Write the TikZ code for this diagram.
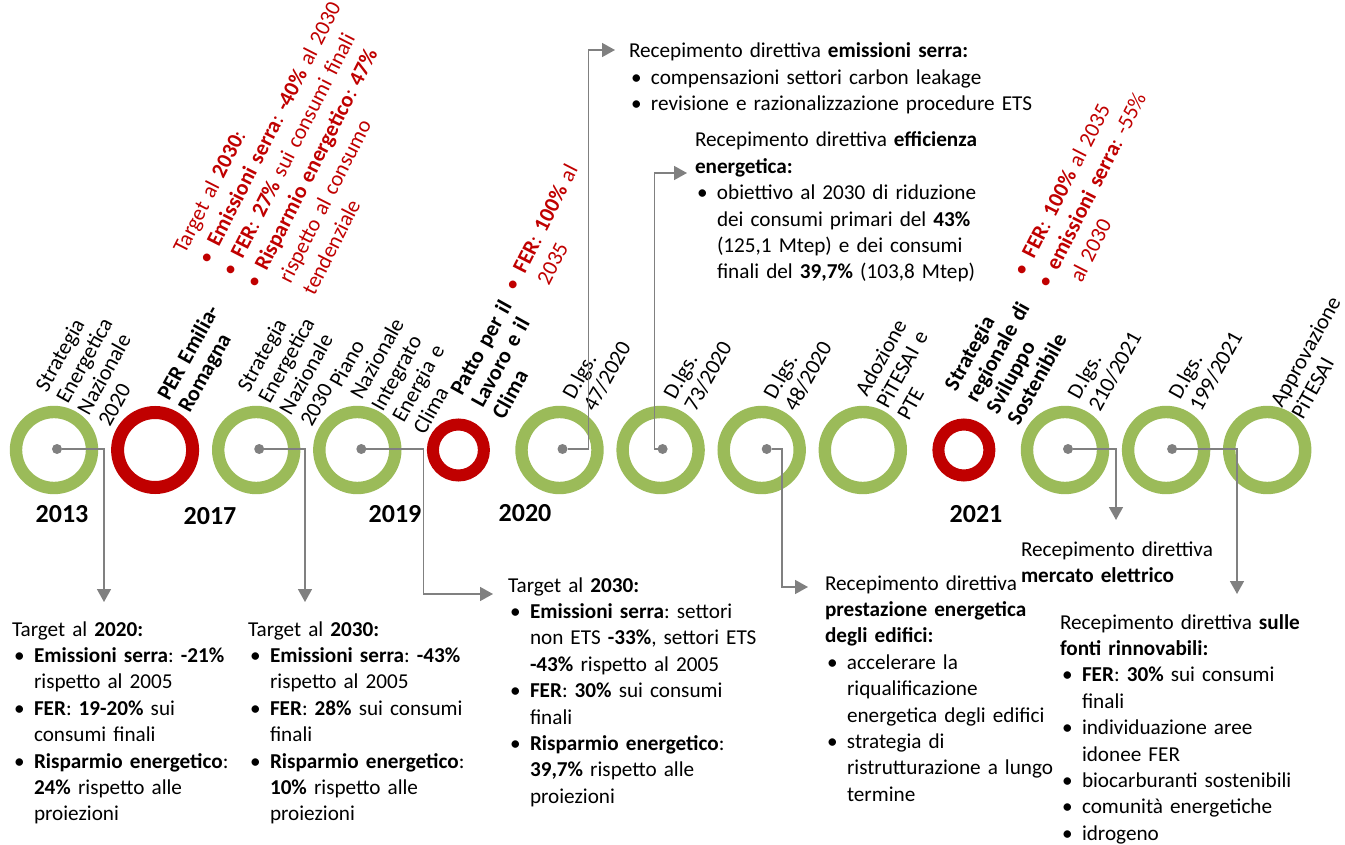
\documentclass[tikz,border=0pt]{standalone}
\usepackage{fontspec}
\setmainfont{Carlito}
\usetikzlibrary{arrows.meta}
\definecolor{ringgreen}{RGB}{155,187,89}
\definecolor{ringred}{RGB}{192,0,0}
\definecolor{linkgray}{RGB}{128,128,128}
\newcommand\bul{\makebox[11pt][l]{\hspace{1pt}\textbullet}}
\newcommand\ind{\hspace*{11pt}}

\begin{document}
\frenchspacing
\begin{tikzpicture}[x=0.5pt, y=-0.5pt,
    every node/.style={inner sep=0pt, outer sep=0pt},
    ring/.style={circle, draw=ringgreen, line width=6.2pt, minimum size=38pt},
    bigred/.style={circle, draw=ringred, line width=6.5pt, minimum size=37.5pt},
    smallred/.style={circle, draw=ringred, line width=6pt, minimum size=25.5pt},
    dot/.style={circle, fill=linkgray, minimum size=5pt},
    link/.style={draw=linkgray, line width=0.8pt, -{Triangle[width=7pt,length=6.5pt]}},
    evtext/.style={xshift=3.5pt, yshift=-2pt, rotate=61, anchor=base west, text width=120pt, align=left, font=\fontsize{11}{12}\selectfont},
    evbold/.style={evtext, font=\fontsize{11}{12}\selectfont\bfseries},
    rednote/.style={xshift=4pt, yshift=-2pt, rotate=63, anchor=base west, text width=220pt, align=left, text=ringred, font=\fontsize{10.9}{13.4}\selectfont},
    infobox/.style={anchor=base west, text width=230pt, align=left, font=\fontsize{10.6}{13.2}\selectfont},
    yeartext/.style={anchor=base, font=\fontsize{13}{15}\selectfont\bfseries}]
  \useasboundingbox (0,0) rectangle (1345,845);

  \foreach \i/\s in {1/ring,2/bigred,3/ring,4/ring,5/smallred,6/ring,7/ring,8/ring,9/ring,10/smallred,11/ring,12/ring,13/ring} {
    \node[\s] (C\i) at ({54+101.1*(\i-1)}, 450) {};
  }
  \foreach \i/\dx in {1/3,3/3,4/4,6/3,7/2,8/5,11/3,12/6} {
    \node[dot] (D\i) at ([xshift=\dx*0.5pt, yshift=0.5pt]C\i.center) {};
  }

  \node[yeartext] (Y1) at (62,522) {2013};
  \node[yeartext] (Y2) at (210,524) {2017};
  \node[yeartext] (Y3) at (395,522) {2019};
  \node[yeartext] (Y4) at (525,521) {2020};
  \node[yeartext] (Y5) at (976,522) {2021};

  \node[evtext] (L1) at (40,389) {Strategia\\Energetica\\Nazionale\\2020};
  \node[evbold] (L2) at (162,398) {PER Emilia-\\Romagna};
  \node[evtext] (L3) at (242,389) {Strategia\\Energetica\\Nazionale\\2030};
  \node[evtext] (L4) at (334,385) {Piano\\Nazionale\\Integrato\\Energia e\\Clima};
  \node[evbold] (L5) at (455,393) {Patto per il\\Lavoro e il\\Clima};
  \node[evtext] (L6) at (567,397) {D.lgs.\\47/2020};
  \node[evtext] (L7) at (668,397) {D.lgs.\\73/2020};
  \node[evtext] (L8) at (768,397) {D.lgs.\\48/2020};
  \node[evtext] (L9) at (860,394) {Adozione\\PiTESAI e\\PTE};
  \node[evbold] (L10) at (949,388) {Strategia\\regionale di\\Sviluppo\\Sostenibile};
  \node[evtext] (L11) at (1072,397) {D.lgs.\\210/2021};
  \node[evtext] (L12) at (1173,397) {D.lgs.\\199/2021};
  \node[evtext] (L13) at (1275,405) {Approvazione\\PiTESAI};

  \node[rednote] (R1) at (177,251) {Target al \textbf{2030}:\\
    \bul\textbf{Emissioni serra}: \textbf{-40\%} al 2030\\
    \bul\textbf{FER}: \textbf{27\%} sui consumi finali\\
    \bul\textbf{Risparmio energetico}: \textbf{47\%}\\
    \ind rispetto al consumo\\
    \ind tendenziale};
  \node[rednote] (R2) at (507,290) {\bul\textbf{FER}: \textbf{100\%} al\\
    \ind 2035};
  \node[rednote] (R3) at (1016,275) {\bul\textbf{FER}: \textbf{100\%} al 2035\\
    \bul\textbf{emissioni serra}: -55\%\\
    \ind al 2030};

  \node[infobox] (B1) at (12,636) {Target al \textbf{2020:}\\
    \bul\textbf{Emissioni serra}: \textbf{-21\%}\\
    \ind rispetto al 2005\\
    \bul\textbf{FER}: \textbf{19-20\%} sui\\
    \ind consumi finali\\
    \bul\textbf{Risparmio energetico}:\\
    \ind\textbf{24\%} rispetto alle\\
    \ind proiezioni};
  \node[infobox] (B2) at (248,636) {Target al \textbf{2030:}\\
    \bul\textbf{Emissioni serra}: \textbf{-43\%}\\
    \ind rispetto al 2005\\
    \bul\textbf{FER}: \textbf{28\%} sui consumi\\
    \ind finali\\
    \bul\textbf{Risparmio energetico}:\\
    \ind\textbf{10\%} rispetto alle\\
    \ind proiezioni};
  \node[infobox] (B3) at (508,592) {Target al \textbf{2030:}\\
    \bul\textbf{Emissioni serra}: settori\\
    \ind non ETS \textbf{-33\%}, settori ETS\\
    \ind\textbf{-43\%} rispetto al 2005\\
    \bul\textbf{FER}: \textbf{30\%} sui consumi\\
    \ind finali\\
    \bul\textbf{Risparmio energetico}:\\
    \ind\textbf{39,7\%} rispetto alle\\
    \ind proiezioni};
  \node[infobox] (B4) at (825,590) {Recepimento direttiva\\
    \textbf{prestazione energetica}\\
    \textbf{degli edifici:}\\
    \bul accelerare la\\
    \ind riqualificazione\\
    \ind energetica degli edifici\\
    \bul strategia di\\
    \ind ristrutturazione a lungo\\
    \ind termine};
  \node[infobox] (B5) at (1021,556) {Recepimento direttiva\\
    \textbf{mercato elettrico}};
  \node[infobox] (B6) at (1060,629) {Recepimento direttiva \textbf{sulle}\\
    \textbf{fonti rinnovabili:}\\
    \bul\textbf{FER}: \textbf{30\%} sui consumi\\
    \ind finali\\
    \bul individuazione aree\\
    \ind idonee FER\\
    \bul biocarburanti sostenibili\\
    \bul comunità energetiche\\
    \bul idrogeno};
  \node[infobox] (B7) at (629,58) {Recepimento direttiva \textbf{emissioni serra:}\\
    \bul compensazioni settori carbon leakage\\
    \bul revisione e razionalizzazione procedure ETS};
  \node[infobox] (B8) at (695,147) {Recepimento direttiva \textbf{efficienza}\\
    \textbf{energetica:}\\
    \bul obiettivo al 2030 di riduzione\\
    \ind dei consumi primari del \textbf{43\%}\\
    \ind (125,1 Mtep) e dei consumi\\
    \ind finali del \textbf{39,7\%} (103,8 Mtep)};

  \coordinate (T1) at (104,602);
  \coordinate (T2) at (305,602);
  \coordinate (T3) at (493,594);
  \coordinate (T4) at (615,50);
  \coordinate (T5) at (687,173);
  \coordinate (T6) at (808,587);
  \coordinate (T7) at (1116,520);
  \coordinate (T8) at (1237,594);

  \draw[link] (D1) -| (T1);
  \draw[link] (D3) -| (T2);
  \draw[link] (D4) -- ++(62,0) |- (T3);
  \draw[link] (D6) -- ++(26,0) |- (T4);
  \draw[link] (D7) -- ++(-8,0) |- (T5);
  \draw[link] (D8) -- ++(15,0) |- (T6);
  \draw[link] (D11) -| (T7);
  \draw[link] (D12) -| (T8);
\end{tikzpicture}
\end{document}
